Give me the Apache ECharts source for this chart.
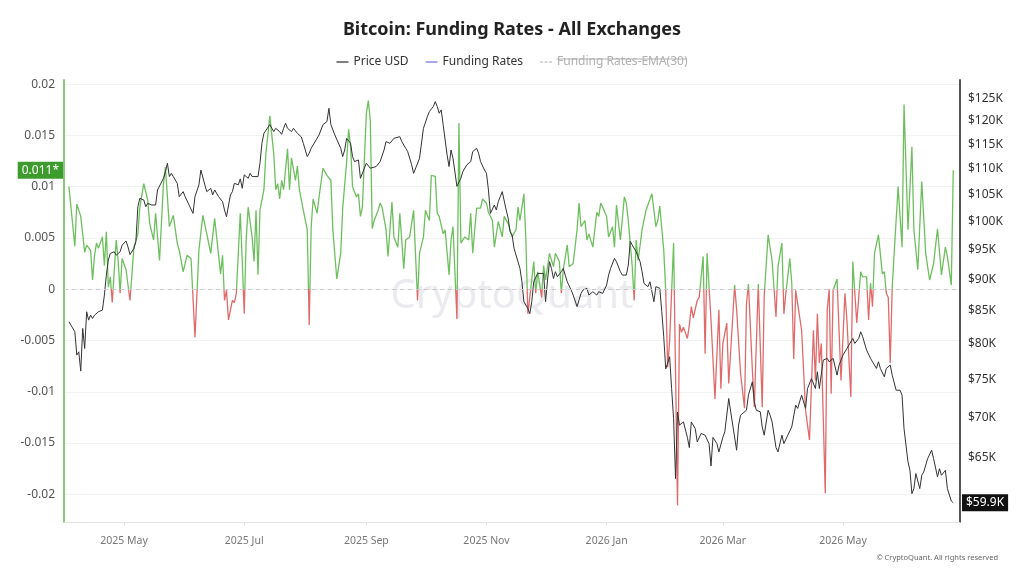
<!DOCTYPE html>
<html><head><meta charset="utf-8">
<script src="https://cdn.jsdelivr.net/npm/echarts@6/dist/echarts.min.js"></script>
<style>html,body{margin:0;padding:0;background:#fff}#c{width:1024px;height:576px}</style>
</head><body><div id="c"></div>
<script>
// Day offsets are days since 2025-05-01 (UTC)
const baseDate = Date.UTC(2025, 4, 1);

// [day offset, price USD]
const pricePoints = [
[-28,83280],[-27,83540],[-25,81780],[-24,78380],[-23,78850],[-22,76130],[-21,82270],[-20,79330],[-19,84810],[-18,83530],[-17,84290],[-16,83780],[-15,84290],[-14,84020],[-13,84810],[-12,84550],[-11,85070],[-10,87420],[-9,90670],[-8,93170],[-7,94310],[-5,94600],[-4,93990],[-2,94600],[-1,95730],[1,96470],[2,95430],[3,94110],[5,95150],[6,96340],[7,102680],[8,104250],[10,103940],[11,102680],[12,103300],[14,103000],[16,103000],[17,105850],[18,106170],[20,108130],[21,109440],[22,111130],[23,108460],[24,109100],[25,108460],[27,107140],[28,104560],[30,105530],[31,104560],[33,102990],[35,101430],[36,104560],[38,106840],[39,109770],[40,109440],[41,106840],[42,105530],[44,106170],[45,104900],[46,105850],[48,104560],[50,103620],[51,102060],[52,100830],[54,104900],[55,105530],[56,107140],[58,106840],[59,108010],[60,106170],[61,108800],[63,108130],[64,109100],[65,108460],[66,108800],[68,108460],[69,111130],[70,115230],[71,117340],[72,117710],[74,119220],[75,119520],[76,117710],[77,118420],[79,117710],[80,117130],[81,118420],[82,119520],[83,118420],[85,117710],[86,118420],[87,118850],[88,117340],[90,116570],[91,115230],[93,112490],[94,113170],[95,114190],[96,114560],[98,116280],[99,117000],[100,117000],[101,119220],[103,119870],[104,122820],[105,119220],[107,117000],[108,117340],[110,114190],[111,112490],[112,113830],[113,116280],[115,115230],[116,112490],[117,111460],[119,111790],[120,108130],[121,108460],[123,111130],[125,110130],[126,109770],[128,110460],[130,111460],[132,113830],[133,115590],[135,115230],[137,116280],[138,116630],[140,116630],[141,115590],[143,114190],[144,113500],[146,110840],[147,109100],[148,109440],[150,112130],[152,118420],[154,120960],[155,122080],[157,123200],[158,124320],[159,123200],[160,121710],[161,122450],[162,119220],[164,112830],[165,110460],[166,113830],[167,112130],[169,106550],[171,108130],[172,109440],[174,110790],[176,111460],[177,113500],[179,114190],[180,113170],[181,111460],[183,109770],[184,109100],[185,105850],[186,101430],[188,102990],[189,102060],[190,103620],[191,104560],[192,105530],[194,102060],[195,100550],[196,98110],[197,97520],[198,95180],[200,92890],[201,91770],[202,89570],[203,86370],[205,85330],[206,84520],[207,86370],[208,89570],[210,90940],[211,90660],[213,90940],[214,86370],[215,89850],[216,92890],[217,91770],[218,90110],[219,91220],[220,90390],[222,91220],[223,91770],[224,90660],[225,89570],[227,88230],[228,87430],[230,85610],[231,86640],[232,87690],[233,88230],[235,88500],[236,87430],[238,87960],[240,87430],[241,87960],[243,87690],[245,89030],[246,90660],[247,91770],[249,93460],[250,92890],[252,91220],[253,90660],[255,90660],[256,92320],[257,96400],[258,95770],[259,95460],[260,94600],[261,94600],[262,92890],[263,91220],[264,89280],[266,88770],[267,89570],[269,86370],[270,88770],[272,88500],[273,84810],[274,81040],[275,76430],[277,78150],[278,73750],[279,69820],[280,62600],[281,70670],[282,69000],[284,69410],[286,67480],[287,66240],[288,69410],[290,68560],[291,66930],[293,67960],[295,67750],[297,66720],[298,64060],[299,67480],[301,66720],[302,65720],[304,67480],[305,68160],[307,72430],[308,70690],[309,70690],[311,65920],[312,69000],[313,70260],[316,70900],[317,72870],[319,74660],[320,71990],[321,70900],[323,70690],[324,68780],[325,67750],[327,70900],[328,70260],[329,69410],[331,66240],[332,65720],[334,67750],[335,66720],[337,67750],[339,68780],[341,71550],[342,71130],[344,72870],[346,71130],[347,73750],[349,75110],[351,73750],[352,76030],[353,73750],[355,77670],[357,77910],[358,77430],[360,77910],[362,75570],[363,76960],[365,78370],[367,79330],[368,79820],[370,80790],[371,80060],[373,80790],[374,81780],[375,81040],[377,79090],[379,77910],[380,77430],[382,76500],[383,77430],[384,76500],[386,75340],[387,76500],[389,76960],[390,75570],[392,73530],[394,73530],[395,72870],[396,68560],[398,64540],[399,63560],[400,60910],[401,61480],[402,63180],[404,61480],[405,62980],[406,63370],[408,64930],[410,65920],[411,64930],[413,62800],[414,63750],[415,62980],[417,63560],[418,61480],[420,60100],[421,59900]
];

// [day offset, funding rate]
const fundingPoints = [
[-28,0.0100],[-25,0.0042],[-24,0.0083],[-22,0.0071],[-20,0.0036],[-19,0.0043],[-17,0.0038],[-16,0.0009],[-15,0.0033],[-14,0.0045],[-13,0.0040],[-11,0.0051],[-10,0.0023],[-9,0.0056],[-8,0.0002],[-7,0.0012],[-6,-0.0013],[-4,0.0048],[-3,0.0028],[-2,-0.0004],[-1,0.0030],[1,0.0019],[3,-0.0011],[5,0.0041],[7,0.0054],[8,0.0080],[10,0.0103],[12,0.0087],[13,0.0064],[15,0.0048],[16,0.0074],[18,0.0028],[20,0.0103],[21,0.0119],[23,0.0061],[25,0.0072],[27,0.0045],[28,0.0038],[30,0.0017],[32,0.0033],[34,0.0030],[36,-0.0047],[38,0.0038],[40,0.0072],[42,0.0054],[44,0.0035],[46,0.0069],[47,0.0051],[49,0.0015],[50,0.0033],[51,-0.0011],[52,-0.0001],[53,-0.0030],[55,-0.0011],[56,-0.0013],[57,-0.0004],[59,0.0074],[60,0.0028],[61,-0.0024],[62,0.0048],[63,0.0080],[65,0.0051],[66,0.0027],[67,0.0077],[68,0.0014],[69,0.0077],[71,0.0097],[72,0.0132],[74,0.0169],[76,0.0132],[77,0.0097],[78,0.0103],[79,0.0088],[80,0.0106],[81,0.0097],[83,0.0137],[84,0.0097],[85,0.0128],[87,0.0106],[88,0.0120],[89,0.0097],[91,0.0077],[93,0.0058],[94,-0.0035],[95,0.0061],[96,0.0088],[98,0.0074],[99,0.0090],[101,0.0118],[103,0.0111],[105,0.0106],[106,0.0058],[108,0.0010],[110,0.0035],[111,0.0079],[113,0.0124],[114,0.0156],[115,0.0139],[116,0.0100],[118,0.0090],[119,0.0093],[120,0.0071],[121,0.0080],[122,0.0126],[123,0.0171],[124,0.0184],[125,0.0165],[126,0.0059],[127,0.0067],[129,0.0077],[130,0.0084],[131,0.0080],[133,0.0058],[134,0.0032],[136,0.0085],[137,0.0051],[139,0.0041],[140,0.0074],[142,0.0020],[143,0.0048],[145,0.0051],[147,0.0077],[149,-0.0011],[150,0.0035],[152,0.0051],[153,0.0077],[155,0.0067],[156,0.0111],[158,0.0110],[159,0.0074],[160,0.0071],[162,0.0054],[163,0.0058],[165,0.0014],[166,0.0048],[167,0.0061],[169,-0.0029],[170,0.0162],[171,0.0045],[172,0.0046],[173,0.0051],[175,0.0048],[176,0.0074],[177,0.0035],[179,0.0079],[181,0.0079],[182,0.0088],[184,0.0084],[185,0.0075],[187,0.0067],[188,0.0041],[190,0.0066],[192,0.0051],[193,0.0071],[195,0.0064],[197,0.0051],[199,0.0058],[200,0.0080],[201,0.0067],[203,0.0093],[204,0.0048],[205,-0.0024],[206,-0.0008],[208,0.0027],[209,-0.0004],[210,0.0017],[212,-0.0008],[213,0.0023],[214,0.0009],[216,0.0035],[218,0.0022],[219,0.0035],[221,0.0027],[222,-0.0004],[223,0.0019],[225,0.0043],[226,0.0022],[228,0.0025],[230,0.0058],[231,0.0084],[232,0.0061],[234,0.0067],[235,0.0048],[236,0.0054],[238,0.0041],[240,0.0075],[241,0.0071],[242,0.0084],[243,0.0080],[245,0.0071],[246,0.0051],[248,0.0061],[249,0.0041],[250,0.0082],[252,0.0048],[254,0.0090],[255,0.0084],[256,0.0067],[258,0.0022],[259,-0.0011],[260,0.0048],[261,0.0028],[263,0.0058],[265,0.0077],[266,0.0077],[268,0.0093],[270,0.0061],[271,0.0067],[272,0.0081],[274,0.0038],[275,-0.0001],[276,-0.0076],[277,-0.0050],[279,0.0045],[281,-0.0211],[282,-0.0034],[283,-0.0042],[284,-0.0037],[286,-0.0048],[287,-0.0035],[288,-0.0017],[289,-0.0028],[291,-0.0011],[292,-0.0008],[294,0.0032],[295,-0.0063],[296,0.0035],[298,-0.0030],[300,-0.0107],[302,-0.0020],[303,-0.0097],[304,-0.0053],[306,-0.0033],[307,-0.0092],[310,0.0004],[311,-0.0020],[313,-0.0082],[315,-0.0116],[316,-0.0014],[317,0.0005],[319,-0.0079],[320,-0.0115],[321,-0.0053],[322,0.0005],[324,-0.0115],[325,-0.0007],[327,0.0053],[329,0.0028],[331,-0.0027],[332,0.0022],[334,0.0045],[335,-0.0024],[336,-0.0004],[338,0.0030],[339,0.0006],[340,-0.0068],[341,-0.0001],[342,-0.0014],[344,-0.0040],[346,-0.0118],[348,-0.0147],[350,-0.0040],[351,-0.0089],[352,-0.0024],[353,-0.0072],[354,-0.0053],[356,-0.0199],[357,-0.0020],[358,0.0000],[359,-0.0102],[360,-0.0001],[362,0.0010],[364,-0.0089],[366,-0.0004],[367,-0.0030],[369,-0.0105],[370,0.0027],[372,-0.0033],[374,0.0017],[375,0.0012],[377,0.0012],[378,-0.0030],[379,0.0006],[380,-0.0017],[381,0.0035],[383,0.0053],[385,0.0015],[386,0.0017],[387,-0.0004],[388,-0.0008],[389,-0.0072],[390,0.0002],[391,0.0035],[393,0.0100],[395,0.0041],[396,0.0180],[397,0.0180],[398,0.0058],[400,0.0139],[401,0.0058],[403,0.0019],[405,0.0105],[407,0.0035],[409,0.0009],[411,0.0025],[413,0.0059],[415,0.0014],[417,0.0041],[418,0.0032],[420,0.0004],[421,0.0116]
];

// EMA series is switched off in the legend of the reference, so no values are drawn
const emaPoints = [];

const leftTicks = [-0.02, -0.015, -0.01, -0.005, 0, 0.005, 0.01, 0.015, 0.02];
const rightTicks = [65000, 70000, 75000, 80000, 85000, 90000, 95000, 100000, 105000, 110000, 115000, 120000, 125000];
const monthTicks = ['2025-05-01', '2025-07-01', '2025-09-01', '2025-11-01', '2026-01-01', '2026-03-01', '2026-05-01'];
const monthNames = ['Jan','Feb','Mar','Apr','May','Jun','Jul','Aug','Sep','Oct','Nov','Dec'];
const legendNames = ['Price USD', 'Funding Rates', 'Funding Rates-EMA(30)'];

const DAY = 86400000;
const toTime = d => baseDate + d * DAY;
const priceData = pricePoints.map(p => [toTime(p[0]), p[1]]);
const fundingData = fundingPoints.map(p => [toTime(p[0]), p[1]]);
const emaData = emaPoints.map(p => [toTime(p[0]), p[1]]);
const monthTickTimes = monthTicks.map(s => Date.parse(s + 'T00:00:00Z'));

const FONT = '"Noto Sans", "Open Sans", sans-serif';
const GREEN = '#6dbf5e';
const RED = '#e06a6a';
const LEG_FS = 12, LEG_IW = 12, LEG_GAP = 17, LEG_TOP = 51;

const chart = echarts.init(document.getElementById('c'), null, {renderer: 'canvas'});
const option = {
  animation: false,
  backgroundColor: '#ffffff',
  textStyle: {fontFamily: FONT},
  title: {
    text: 'Bitcoin: Funding Rates - All Exchanges',
    left: 'center', top: 16,
    textStyle: {fontSize: 18, fontWeight: 'bold', color: '#222', fontFamily: FONT}
  },
  legend: {
    top: LEG_TOP, left: 'center',
    itemWidth: LEG_IW, itemHeight: 1.5, itemGap: LEG_GAP,
    textStyle: {fontSize: LEG_FS, color: '#333', fontFamily: FONT},
    inactiveColor: '#b0b0b0',
    selected: {'Funding Rates-EMA(30)': false},
    data: [
      {name: legendNames[0], icon: 'rect', itemStyle: {color: '#555'}},
      {name: legendNames[1], icon: 'rect', itemStyle: {color: '#8b8be0'}},
      {name: legendNames[2], icon: 'path://M0,0h3v1h-3zM4.5,0h3v1h-3zM9,0h3v1h-3z', itemStyle: {color: '#bbb'}}
    ]
  },
  grid: {left: 64, right: 64, top: 80, bottom: 54, containLabel: false},
  xAxis: {
    type: 'value',
    min: Date.UTC(2025, 2, 31, 12), max: Date.UTC(2026, 5, 29, 10),
    axisLine: {show: true, onZero: false, lineStyle: {color: '#e2e2e2', width: 1}},
    axisTick: {show: true, customValues: monthTickTimes, length: 4, lineStyle: {color: '#e2e2e2'}},
    axisLabel: {
      customValues: monthTickTimes, margin: 14, fontSize: 10.5, color: '#777',
      formatter: v => { const d = new Date(v); return d.getUTCFullYear() + ' ' + monthNames[d.getUTCMonth()]; }
    },
    splitLine: {show: false}
  },
  yAxis: [
    {
      type: 'value', position: 'left', min: -0.0227, max: 0.0204,
      axisLine: {show: true, onZero: false, lineStyle: {color: '#86ca78', width: 2}},
      axisTick: {show: false, customValues: leftTicks},
      axisLabel: {customValues: leftTicks, margin: 9, fontSize: 12, color: '#555', formatter: v => String(v)},
      splitLine: {show: true, lineStyle: {color: '#f2f2f2', width: 1}}
    },
    {
      type: 'log', logBase: 10, position: 'right', min: 57850, max: 129300,
      axisLine: {show: true, onZero: false, lineStyle: {color: '#555', width: 2}},
      axisTick: {show: false},
      axisLabel: {customValues: rightTicks, margin: 8, fontSize: 12, color: '#333',
        formatter: v => '$' + Math.round(v / 1000) + 'K'},
      splitLine: {show: false}
    }
  ],
  visualMap: {
    show: false, type: 'piecewise', seriesIndex: 1, dimension: 1,
    pieces: [{gte: -1, lt: 0, color: RED}, {gte: 0, lte: 1, color: GREEN}],
    outOfRange: {color: GREEN}
  },
  series: [
    {
      name: legendNames[0], type: 'line', yAxisIndex: 1, data: priceData,
      symbol: 'none', z: 4,
      lineStyle: {color: '#333', width: 1}, itemStyle: {color: '#333'}
    },
    {
      name: legendNames[1], type: 'line', yAxisIndex: 0, data: fundingData,
      symbol: 'none', z: 3,
      lineStyle: {width: 1.3},
      markLine: {
        silent: true, symbol: 'none', label: {show: false},
        lineStyle: {color: '#c9c9c9', type: [4, 4], width: 1},
        data: [{yAxis: 0}]
      }
    },
    {
      name: legendNames[2], type: 'line', yAxisIndex: 0, data: emaData,
      symbol: 'none', lineStyle: {color: '#bbb', width: 1, type: 'dashed'}
    }
  ]
};
chart.setOption(option);

// Value tags on the axes and strike-through on the disabled legend entry
const lastFunding = fundingPoints[fundingPoints.length - 1][1];
const lastPrice = pricePoints[pricePoints.length - 1][1];
const yF = chart.convertToPixel({yAxisIndex: 0}, lastFunding);
const yP = chart.convertToPixel({yAxisIndex: 1}, lastPrice);

const ctx = document.createElement('canvas').getContext('2d');
ctx.font = LEG_FS + 'px ' + FONT;
const widths = legendNames.map(n => ctx.measureText(n).width);
const itemW = widths.map(w => LEG_IW + 5 + w);
const total = itemW.reduce((a, b) => a + b, 0) + LEG_GAP * 2;
const legLeft = Math.round((1024 - total) / 2);
const strikeX0 = legLeft + itemW[0] + LEG_GAP + itemW[1] + LEG_GAP + LEG_IW + 5;
const strikeX1 = strikeX0 + widths[2];
const strikeY = LEG_TOP + 8;

chart.setOption({
  graphic: [
    {
      type: 'text', z: 1, x: 512, y: 297, silent: true,
      style: {text: 'CryptoQuant', font: '40px ' + FONT, fill: 'rgba(200,200,212,0.38)', align: 'center', verticalAlign: 'middle'}
    },
    {
      type: 'line', z: 100, silent: true,
      shape: {x1: strikeX0, y1: strikeY, x2: strikeX1, y2: strikeY},
      style: {stroke: '#b0b0b0', lineWidth: 1}
    },
    {
      type: 'text', z: 100, x: 63, y: yF, silent: true,
      style: {text: (Math.floor(lastFunding * 1000) / 1000) + '*', font: '12px ' + FONT, fill: '#fff',
        backgroundColor: '#3e9c2e', padding: [3, 4, 2, 4], align: 'right', verticalAlign: 'middle'}
    },
    {
      type: 'text', z: 100, x: 962, y: yP, silent: true,
      style: {text: '$' + (lastPrice / 1000).toFixed(1) + 'K', font: '12px ' + FONT, fill: '#fff',
        backgroundColor: '#111', padding: [3, 4, 2, 4], align: 'left', verticalAlign: 'middle'}
    },
    {
      type: 'text', z: 100, x: 998, y: 558, silent: true,
      style: {text: '\u00A9 CryptoQuant. All rights reserved', font: '7.5px ' + FONT, fill: '#666', align: 'right', verticalAlign: 'middle'}
    }
  ]
});
</script>
</body></html>
